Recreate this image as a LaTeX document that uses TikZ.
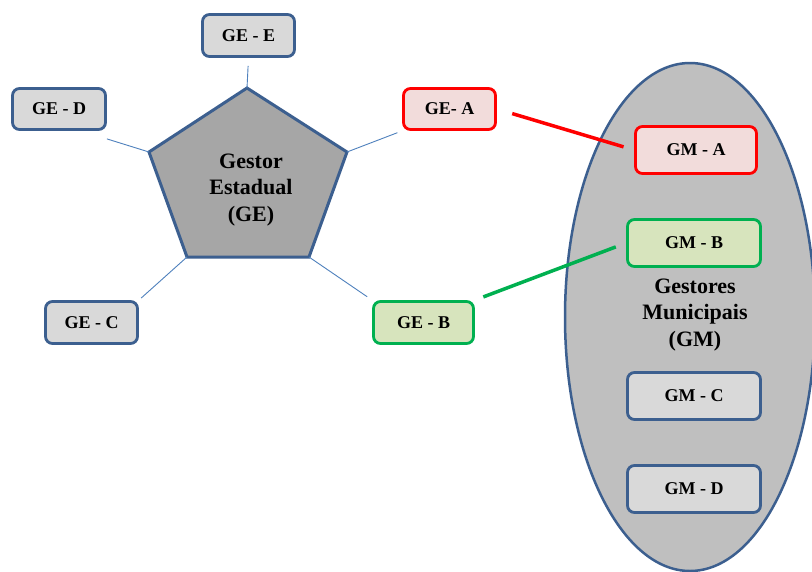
\documentclass[tikz,border=0pt]{standalone}
\usepackage{fontspec}
\setmainfont{Liberation Serif}
\definecolor{bblue}{HTML}{3C5F8F}
\definecolor{lblue}{HTML}{4F81BD}
\definecolor{boxgray}{HTML}{D9D9D9}
\definecolor{pentgray}{HTML}{A6A6A6}
\definecolor{ellgray}{HTML}{BFBFBF}
\definecolor{pinkfill}{HTML}{F2DCDB}
\definecolor{greenfill}{HTML}{D7E4BD}
\definecolor{gline}{HTML}{00B050}
\begin{document}
\begin{tikzpicture}[x=1pt,y=-1pt,
  lbl/.style={rounded corners=7pt, line width=2.8pt, font=\bfseries\fontsize{18}{20}\selectfont, inner sep=0pt},
  gebox/.style={lbl, draw=bblue, fill=boxgray},
  redbox/.style={lbl, draw=red, fill=pinkfill},
  grnbox/.style={lbl, draw=gline, fill=greenfill},
  thinline/.style={draw=lblue, line width=0.9pt},
  bigtext/.style={font=\bfseries\fontsize{22}{26.5}\selectfont, align=center, inner sep=0pt}
]
\clip (0,0) rectangle (812,571);
\useasboundingbox (0,0) rectangle (812,571);
\fill[white] (0,0) rectangle (812,571);

% ellipse
\draw[bblue, line width=2.5pt, fill=ellgray] (690,317) ellipse [x radius=125, y radius=254];
\node[bigtext] (gmtext) at (695,315) {Gestores\\Municipais\\(GM)};

% pentagon
\coordinate (pT) at (247,88);
\coordinate (pR) at (347,152);
\coordinate (pBR) at (309,257);
\coordinate (pBL) at (187,257);
\coordinate (pL) at (149,152);
\draw[bblue, line width=3pt, fill=pentgray, line join=miter] (pT) -- (pR) -- (pBR) -- (pBL) -- (pL) -- cycle;
\node[bigtext] (getext) at (251,190) {Gestor\\Estadual\\(GE)};

% GE boxes
\node[gebox, minimum width=92pt, minimum height=42pt] (gee) at (248.5,35.5) {GE - E};
\node[gebox, minimum width=93pt, minimum height=41pt] (ged) at (59,109) {GE - D};
\node[gebox, minimum width=92pt, minimum height=42pt] (gec) at (91.5,322.5) {GE - C};
\node[redbox, minimum width=92pt, minimum height=41pt] (gea) at (449.5,109) {GE- A};
\node[grnbox, minimum width=100pt, minimum height=42pt] (geb) at (423.5,322.5) {GE - B};

% GM boxes
\node[redbox, minimum width=121pt, minimum height=47pt] (gma) at (696,150) {GM - A};
\node[grnbox, minimum width=133pt, minimum height=47pt] (gmb) at (694,243) {GM - B};
\node[gebox, minimum width=133pt, minimum height=47pt] (gmc) at (694,396) {GM - C};
\node[gebox, minimum width=133pt, minimum height=47pt] (gmd) at (694,489) {GM - D};

% thin connectors
\draw[thinline, shorten <=8pt] (gee.south) -- (pT);
\draw[thinline] ([yshift=-8pt]ged.south east) -- (pL);
\draw[thinline, shorten <=3pt] (gec.north east) -- (pBL);
\draw[thinline, shorten <=5pt] (gea.south west) -- (pR);
\draw[thinline, shorten <=6pt] (geb.north west) -- (pBR);

% coloured connectors
\draw[red, line width=3.5pt, shorten <=16pt, shorten >=11pt] (gea.east) -- (gma.west);
\draw[gline, line width=3.5pt, shorten <=9pt, shorten >=11pt] (geb.north east) -- (gmb.west);
\end{tikzpicture}
\end{document}
